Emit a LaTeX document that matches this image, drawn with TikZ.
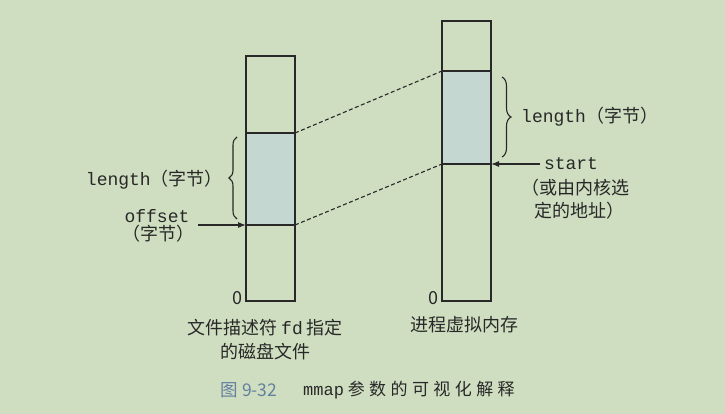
\documentclass[tikz,border=0pt]{standalone}
\usepackage{fontspec}
\setmainfont{Noto Sans CJK SC}
\setmonofont{Liberation Mono}
\newfontfamily\capfont[LetterSpace=26]{Noto Sans CJK SC}
\usetikzlibrary{arrows.meta,decorations.pathreplacing}
\definecolor{paper}{RGB}{207,222,192}
\definecolor{mapfill}{RGB}{196,215,208}
\definecolor{ink}{RGB}{40,40,40}
\definecolor{capblue}{RGB}{100,128,160}
\newcommand{\code}[1]{{\ttfamily #1}}
\begin{document}
\begin{tikzpicture}[x=1pt,y=-1pt]

        \fill[paper] (0,0) rectangle (725,414);
        \useasboundingbox (0,0) rectangle (725,414);

        \coordinate (lftTop) at (246,56);
        \coordinate (lftHi)  at (295,133);
        \coordinate (lftLo)  at (295,225);
        \coordinate (lftBot) at (295,301);
        \coordinate (rgtTop) at (442,21);
        \coordinate (rgtHi)  at (442,71);
        \coordinate (rgtLo)  at (442,164);
        \coordinate (rgtBot) at (491,301);
        \coordinate (offTail) at (198,225);

        \begin{scope}[draw=ink, line width=1.1pt]
          \fill[mapfill] (246,133) rectangle (lftLo);
          \fill[mapfill] (rgtHi) rectangle (491,164);
          \draw (lftTop) rectangle (lftBot);
          \draw (246,133) -- (lftHi);
          \draw (246,225) -- (lftLo);
          \draw (rgtTop) rectangle (rgtBot);
          \draw (rgtHi) -- (491,71);
          \draw (rgtLo) -- (491,164);
          \path[dashed, dash pattern=on 4pt off 2.5pt] (lftHi) edge (rgtHi);
          \path[dashed, dash pattern=on 4pt off 2.5pt] (lftLo) edge (rgtLo);
        \end{scope}

        \begin{scope}[every node/.style={inner sep=0pt, text=ink, font=\fontsize{18}{24}\selectfont}]
          \node[anchor=east] (lenL) at (223,180) {\code{length}（字节）};
          \node (offs) at (157,216) {\code{offset}};
          \node (offB) at (158,234) {（字节）};
          \node[anchor=west] (lenR) at (521,117) {\code{length}（字节）};
          \node (start) at (571,164) {\code{start}};
          \node (kern1) at (575,188) {（或由内核选};
          \node (kern2) at (579,211) {定的地址）};
          \node (zeroL) at (237,298) {0};
          \node (zeroR) at (433,298) {0};
          \node[align=center] (disk) at (265,340) {文件描述符 \code{fd} 指定\\的磁盘文件};
          \node (vmem) at (464,325) {进程虚拟内存};
          \node[text=capblue, font=\fontsize{17.5}{20}\selectfont] (fig) at (249,390) {图 9-32};
          \node[anchor=west, font=\fontsize{17}{20}\selectfont] (cap) at (303,390) {\code{mmap} \capfont 参数的可视化解释};
        \end{scope}

        \begin{scope}[ink, line width=1.1pt]
          \draw[decorate, decoration={brace, amplitude=8pt}] (237,219) -- (237,137);
          \draw[decorate, decoration={brace, amplitude=9pt}] (502,77) -- (502,157);
          \draw[-{Latex[length=8pt,width=6pt]}] (offTail) -- (246,225);
          \draw[-{Latex[length=8pt,width=6pt]}] (start.west) ++(-4,0) -- (491,164);
        \end{scope}

      \end{tikzpicture}
\end{document}
